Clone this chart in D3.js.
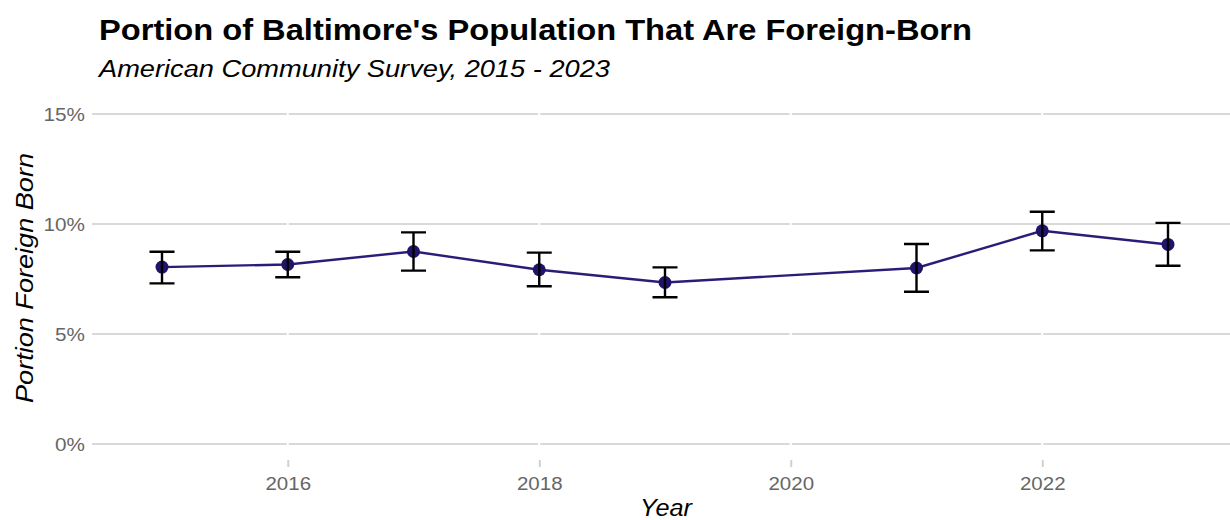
<!DOCTYPE html>
<html><head><meta charset="utf-8">
<script src="https://cdn.jsdelivr.net/npm/d3@7"></script>
<style>body{margin:0;background:#fff}svg{display:block}</style>
</head><body>
<svg id="c" width="1230" height="520"></svg>
<script>
const years = [2015, 2016, 2017, 2018, 2019, 2021, 2022, 2023];
const pct   = [8.04, 8.16, 8.75, 7.92, 7.34, 8.00, 9.69, 9.07];
const lower = [7.30, 7.58, 7.88, 7.17, 6.67, 6.92, 8.80, 8.10];
const upper = [8.74, 8.74, 9.62, 8.70, 8.03, 9.09, 10.56, 10.05];
const yTicks = [0, 5, 10, 15];
const xTicks = [2016, 2018, 2020, 2022];

const FONT = "Liberation Sans, Arial, sans-serif";
const svg = d3.select("#c");
const x = d3.scaleLinear().domain([2015, 2023]).range([162, 1168]);
const y = d3.scaleLinear().domain([0, 15]).range([444, 114]);
const pL = 92, pR = 1230, pT = 100, pB = 452;
const data = years.map((yr,i)=>({yr, v:pct[i], lo:lower[i], hi:upper[i]}));

function stretch(sel, k){
  sel.each(function(){
    const L = this.getComputedTextLength();
    d3.select(this).attr("textLength", L*k).attr("lengthAdjust","spacingAndGlyphs");
  });
}

// horizontal grid
svg.append("g").selectAll("line").data(yTicks).join("line")
  .attr("x1", pL).attr("x2", pR).attr("y1", d=>y(d)).attr("y2", d=>y(d))
  .attr("stroke", "#d9d9d9").attr("stroke-width", 2);
// vertical grid (white)
svg.append("g").selectAll("line").data(xTicks).join("line")
  .attr("x1", d=>x(d)).attr("x2", d=>x(d)).attr("y1", pT).attr("y2", pB)
  .attr("stroke", "#ffffff").attr("stroke-width", 2);

// y axis labels
const yAxis = d3.axisLeft(y).tickValues(yTicks).tickFormat(d=>d+"%").tickSize(0).tickPadding(0);
const gy = svg.append("g").attr("transform", "translate(85,0)").call(yAxis);
gy.select(".domain").remove();
gy.selectAll("text").attr("fill", "#666666").style("font-family",FONT).style("font-size","18px").attr("dy","0.35em");
stretch(gy.selectAll("text"), 1.15);

// x axis
const xAxis = d3.axisBottom(x).tickValues(xTicks).tickFormat(d3.format("d")).tickSize(7).tickPadding(11);
const gx = svg.append("g").attr("transform", "translate(0,460)").call(xAxis);
gx.select(".domain").remove();
gx.selectAll("line").attr("stroke", "#d0d0d0").attr("stroke-width", 2);
gx.selectAll("text").attr("fill", "#666666").style("font-family",FONT).style("font-size","17.5px");
stretch(gx.selectAll("text"), 1.17);

// line
svg.append("path").datum(data)
  .attr("d", d3.line().x(d=>x(d.yr)).y(d=>y(d.v)))
  .attr("fill","none").attr("stroke","#2a1d78").attr("stroke-width",2.4);

// points
svg.append("g").selectAll("circle").data(data).join("circle")
  .attr("cx", d=>x(d.yr)).attr("cy", d=>y(d.v)).attr("r", 6.5)
  .attr("fill", "#21136a");

// error bars
const cap = 12.5;
const eb = svg.append("g").attr("stroke","#000").attr("stroke-width",2.4).attr("fill","none");
eb.selectAll("path").data(data).join("path")
  .attr("d", d=>{
    const cx = x(d.yr), t = y(d.hi), b = y(d.lo);
    return `M${cx-cap},${t}H${cx+cap}M${cx},${t}V${b}M${cx-cap},${b}H${cx+cap}`;
  });

// titles
svg.append("text").attr("x", 99).attr("y", 39.5)
  .style("font-family",FONT).style("font-size","29px").style("font-weight","bold")
  .attr("fill","#000").text("Portion of Baltimore's Population That Are Foreign-Born")
  .attr("textLength", 873).attr("lengthAdjust","spacingAndGlyphs");
svg.append("text").attr("x", 99).attr("y", 77)
  .style("font-family",FONT).style("font-size","23px").style("font-style","italic")
  .attr("fill","#000").text("American Community Survey, 2015 - 2023")
  .attr("textLength", 511).attr("lengthAdjust","spacingAndGlyphs");
svg.append("text").attr("transform","translate(33,278) rotate(-90)").attr("text-anchor","middle")
  .style("font-family",FONT).style("font-size","23px").style("font-style","italic")
  .attr("fill","#000").text("Portion Foreign Born")
  .attr("textLength", 250).attr("lengthAdjust","spacingAndGlyphs");
svg.append("text").attr("x", 666).attr("y", 516).attr("text-anchor","middle")
  .style("font-family",FONT).style("font-size","23px").style("font-style","italic")
  .attr("fill","#000").text("Year")
  .attr("textLength", 52).attr("lengthAdjust","spacingAndGlyphs");
</script>
</body></html>
